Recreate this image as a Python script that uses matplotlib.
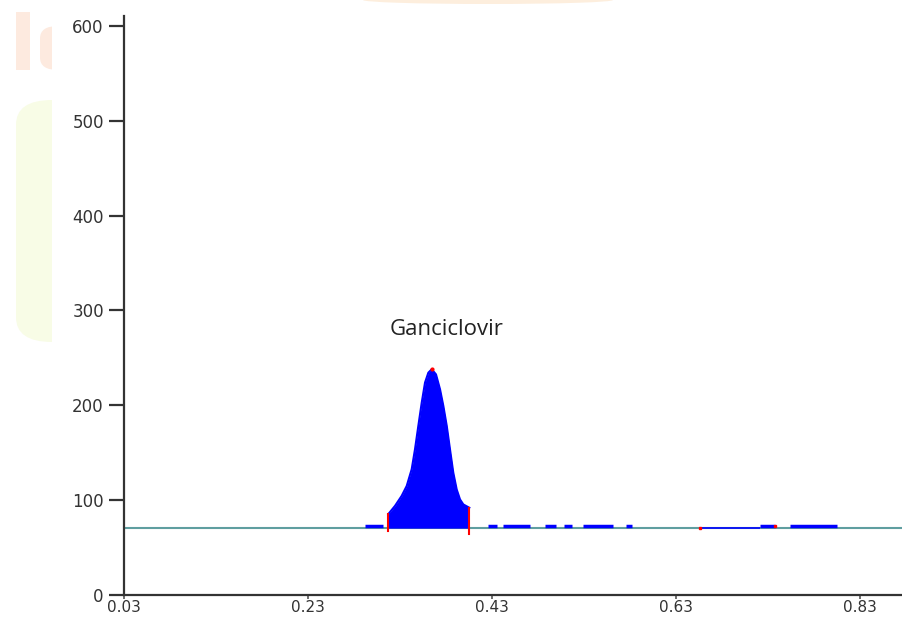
import numpy as np
import matplotlib.pyplot as plt
from matplotlib.patches import FancyBboxPatch, Rectangle, Ellipse

# Chromatogram values
baseline = 70.5
peak_x = [0.3173, 0.3246, 0.3318, 0.3373, 0.3427, 0.3463, 0.3499, 0.3536,
          0.3572, 0.3608, 0.3645, 0.3691, 0.3735, 0.3771, 0.3808, 0.3843,
          0.3879, 0.3916, 0.3952, 0.3988, 0.4053]
peak_y = [85.3, 94, 104.5, 115, 132.6, 153.7, 178.2, 202.8,
          224, 234.4, 238, 232.6, 216.8, 199.3, 178.2, 153.7,
          129, 111.3, 100.8, 95.5, 92]

# small noise segments along the baseline (start, end)
noise_start = [0.292, 0.426, 0.442, 0.488, 0.508, 0.529, 0.576, 0.721, 0.754]
noise_end = [0.312, 0.435, 0.471, 0.500, 0.517, 0.562, 0.582, 0.738, 0.805]
noise_level = 73
flat_start = [0.656]
flat_end = [0.721]

peak_label = "Ganciclovir"
xticks = [0.03, 0.23, 0.43, 0.63, 0.83]
xtick_labels = ["0.03", "0.23", "0.43", "0.63", "0.83"]
yticks = [0, 100, 200, 300, 400, 500, 600]

fig = plt.figure(figsize=(9.03, 6.18), dpi=100)
W, H = 903, 618

# faint watermark from the source page
fig.patches.append(Rectangle((16 / W, 1 - 70 / H), 14 / W, 58 / H,
                             transform=fig.transFigure, facecolor="#fdeadf",
                             edgecolor="none", zorder=-10))
fig.patches.append(FancyBboxPatch((40 / W, 1 - 70 / H), 30 / W, 44 / H,
                                  boxstyle="round,pad=0,rounding_size=0.02",
                                  transform=fig.transFigure, facecolor="#fdeadf",
                                  edgecolor="none", zorder=-10))
fig.patches.append(FancyBboxPatch((16 / W, 1 - 342 / H), 80 / W, 242 / H,
                                  boxstyle="round,pad=0,rounding_size=0.04",
                                  transform=fig.transFigure, facecolor="#f8fce6",
                                  edgecolor="none", zorder=-9))
fig.patches.append(Rectangle((52 / W, 0), 72 / W, 1, transform=fig.transFigure,
                             facecolor="white", edgecolor="none", zorder=-5))
fig.patches.append(Ellipse((488 / W, 1.0), 250 / W, 8 / H, transform=fig.transFigure,
                           facecolor="#fdeedd", edgecolor="none", zorder=-8))

ax = fig.add_axes([124 / W, 23 / H, 779 / W, 579 / H])
ax.set_xlim(0.03, 0.8767)
ax.set_ylim(0, 610.5)

# baseline
ax.axhline(baseline, color="#5f9ea0", lw=1.5, zorder=2)

# peak
ax.fill_between(peak_x, baseline, peak_y, color="#0000ff", lw=0, zorder=3)
ax.plot(peak_x, peak_y, color="#0000ff", lw=1.5, zorder=3)
ax.plot([peak_x[0], peak_x[0]], [68, peak_y[0]], color="red", lw=1.5, zorder=4)
ax.plot([peak_x[-1], peak_x[-1]], [64, peak_y[-1]], color="red", lw=1.5, zorder=4)
ax.plot(peak_x[10], peak_y[10], "o", color="red", ms=2, zorder=4)

# noise
ax.hlines([noise_level] * len(noise_start), noise_start, noise_end,
          color="#0000ff", lw=2.5, zorder=3)
ax.hlines([baseline + 0.5] * len(flat_start), flat_start, flat_end,
          color="#0000ff", lw=1.2, zorder=3)
ax.plot([0.656, 0.738], [baseline + 0.5, noise_level], "s", color="red", ms=2, zorder=4)

ax.text(0.3808, 280, peak_label, fontsize=16, family="Open Sans",
        ha="center", va="center", color="#222222")

ax.spines["top"].set_visible(False)
ax.spines["right"].set_visible(False)
for s in ["left", "bottom"]:
    ax.spines[s].set_color("#333333")
    ax.spines[s].set_linewidth(1.6)

ax.set_xticks(xticks)
ax.set_xticklabels(xtick_labels)
ax.set_yticks(yticks)
ax.tick_params(axis="y", length=11, width=1.6, color="#333333", pad=3.5,
               labelsize=12, labelcolor="#333333")
ax.tick_params(axis="x", length=3, width=1.2, color="#555555", pad=0.5,
               labelsize=11, labelcolor="#333333")
for lab in ax.get_xticklabels() + ax.get_yticklabels():
    lab.set_family("DejaVu Sans")

fig.savefig("out.png", dpi=100)
